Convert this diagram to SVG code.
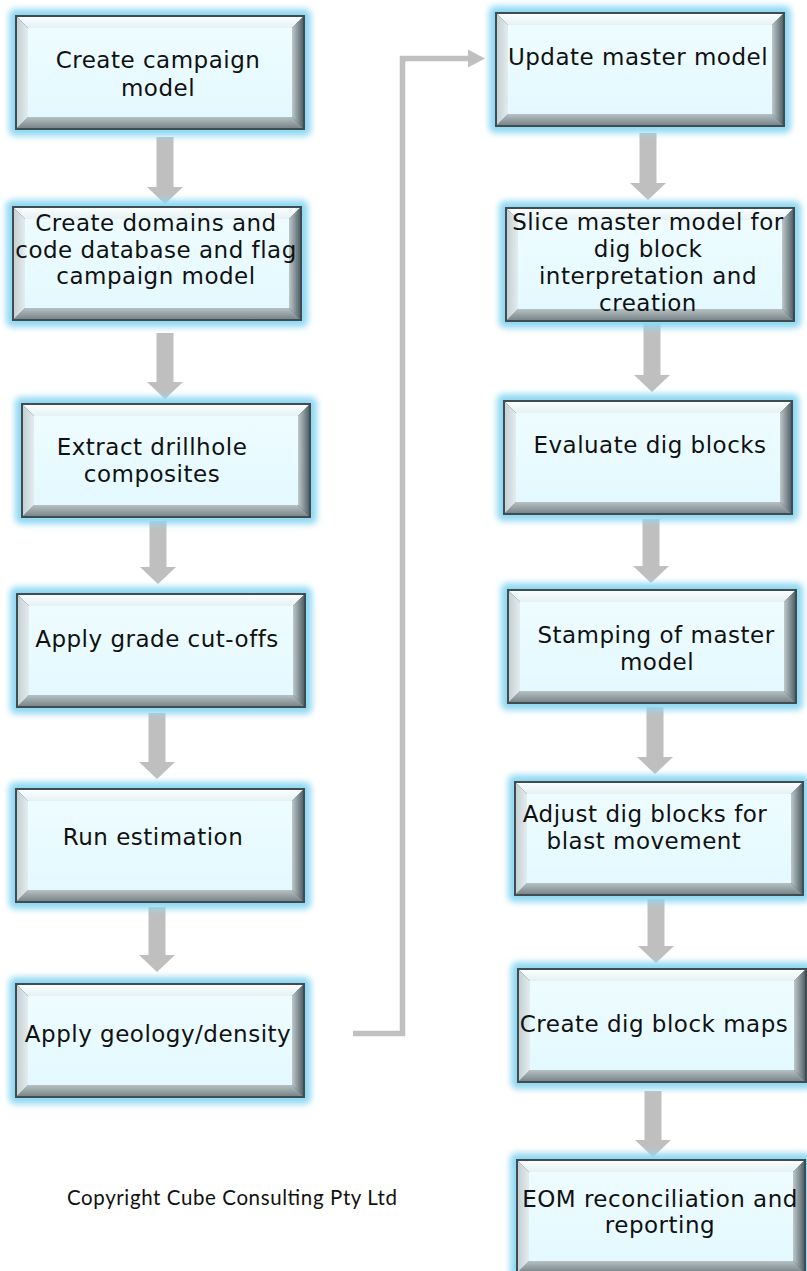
<svg xmlns="http://www.w3.org/2000/svg" xmlns:xlink="http://www.w3.org/1999/xlink" width="807" height="1271" viewBox="0 0 807 1271">
<style>
.lbl{font-family:"DejaVu Sans","Liberation Sans",sans-serif;font-size:23px;letter-spacing:0.5px;fill:#111;text-anchor:middle}
.copy{font-family:Lato,"Liberation Sans",sans-serif;font-size:20.5px;fill:#111}
.blk{fill:#bfbfbf}
.conn{fill:none;stroke:#c0c0c0;stroke-width:5.5}
</style>
<defs>
<filter id="blur" x="-10%" y="-10%" width="120%" height="120%"><feGaussianBlur stdDeviation="3"/></filter>
<linearGradient id="gTop" x1="0" y1="0" x2="0" y2="1"><stop offset="0" stop-color="#fbfdfd"/><stop offset="1" stop-color="#e4f2f4"/></linearGradient>
<linearGradient id="gBot" x1="0" y1="0" x2="0" y2="1"><stop offset="0" stop-color="#b7c1c4"/><stop offset="1" stop-color="#7a868a"/></linearGradient>
<linearGradient id="gLeft" x1="0" y1="0" x2="1" y2="0"><stop offset="0" stop-color="#c6d0d3"/><stop offset="1" stop-color="#e3ecee"/></linearGradient>
<linearGradient id="gRight" x1="0" y1="0" x2="1" y2="0"><stop offset="0" stop-color="#bfc9cc"/><stop offset="1" stop-color="#55646a"/></linearGradient>
<linearGradient id="gFace" x1="0" y1="0" x2="0" y2="1"><stop offset="0" stop-color="#eefcff"/><stop offset="1" stop-color="#e3f9ff"/></linearGradient>
<g id="box">
<rect x="-6" y="-6" width="302" height="127" rx="6" fill="#8fd8f2" filter="url(#blur)"/>
<rect x="0" y="0" width="290" height="115" fill="#3f4d52"/>
<polygon points="2,2 288,2 277,13 13,13" fill="url(#gTop)"/>
<polygon points="2,113 288,113 277,102 13,102" fill="url(#gBot)"/>
<polygon points="2,2 13,13 13,102 2,113" fill="url(#gLeft)"/>
<polygon points="288,2 277,13 277,102 288,113" fill="url(#gRight)"/>
<rect x="13" y="13" width="264" height="89" fill="url(#gFace)"/>
</g>
</defs>
<rect width="807" height="1271" fill="#ffffff"/>

<g id="connectors">
<polygon class="blk" points="156.5,137 173.5,137 173.5,187 183,187 165,204 147,187 156.5,187"/>
<polygon class="blk" points="156.5,333 173.5,333 173.5,382 183,382 165,399 147,382 156.5,382"/>
<polygon class="blk" points="149.5,521 166.5,521 166.5,567 176,567 158,584 140,567 149.5,567"/>
<polygon class="blk" points="148.5,713 165.5,713 165.5,762 175,762 157,779 139,762 148.5,762"/>
<polygon class="blk" points="148.5,907 165.5,907 165.5,955 175,955 157,972 139,955 148.5,955"/>
<polygon class="blk" points="639.5,133 656.5,133 656.5,183 666,183 648,200 630,183 639.5,183"/>
<polygon class="blk" points="643.5,323 660.5,323 660.5,375 670,375 652,392 634,375 643.5,375"/>
<polygon class="blk" points="642.5,519 659.5,519 659.5,566 669,566 651,583 633,566 642.5,566"/>
<polygon class="blk" points="646.5,707 663.5,707 663.5,757 673,757 655,774 637,757 646.5,757"/>
<polygon class="blk" points="647.5,899 664.5,899 664.5,946 674,946 656,963 638,946 647.5,946"/>
<polygon class="blk" points="644.5,1091 661.5,1091 661.5,1140 671,1140 653,1157 635,1140 644.5,1140"/>
<polyline class="conn" points="353,1033.5 402.5,1033.5 402.5,58.5 470,58.5"/>
<polygon fill="#c0c0c0" points="468,49.5 485,58.5 468,67.5"/>
</g>

<g id="n1"><use xlink:href="#box" x="15" y="15"/>
<text class="lbl" x="158" y="68">Create campaign</text><text class="lbl" x="158" y="96">model</text></g>
<g id="n2"><use xlink:href="#box" x="12" y="206"/>
<text class="lbl" x="156" y="231">Create domains and</text><text class="lbl" x="156" y="258">code database and flag</text><text class="lbl" x="156" y="284">campaign model</text></g>
<g id="n3"><use xlink:href="#box" x="21" y="403"/>
<text class="lbl" x="152" y="455">Extract drillhole</text><text class="lbl" x="152" y="482">composites</text></g>
<g id="n4"><use xlink:href="#box" x="16" y="593"/>
<text class="lbl" x="157" y="647">Apply grade cut-offs</text></g>
<g id="n5"><use xlink:href="#box" x="15" y="788"/>
<text class="lbl" x="153" y="845">Run estimation</text></g>
<g id="n6"><use xlink:href="#box" x="15" y="983"/>
<text class="lbl" x="158" y="1042">Apply geology/density</text></g>
<g id="n7"><use xlink:href="#box" x="495" y="12"/>
<text class="lbl" x="638" y="65">Update master model</text></g>
<g id="n8"><use xlink:href="#box" x="505" y="207"/>
<text class="lbl" x="648" y="230">Slice master model for</text><text class="lbl" x="648" y="257">dig block</text><text class="lbl" x="648" y="284">interpretation and</text><text class="lbl" x="648" y="311">creation</text></g>
<g id="n9"><use xlink:href="#box" x="503" y="400"/>
<text class="lbl" x="650" y="453">Evaluate dig blocks</text></g>
<g id="n10"><use xlink:href="#box" x="507" y="589"/>
<text class="lbl" x="656" y="643">Stamping of master</text><text class="lbl" x="657" y="670">model</text></g>
<g id="n11"><use xlink:href="#box" x="514" y="781"/>
<text class="lbl" x="645" y="822">Adjust dig blocks for</text><text class="lbl" x="644" y="849">blast movement</text></g>
<g id="n12"><use xlink:href="#box" x="517" y="968"/>
<text class="lbl" x="654" y="1032">Create dig block maps</text></g>
<g id="n13"><use xlink:href="#box" x="516" y="1159"/>
<text class="lbl" x="660" y="1207">EOM reconciliation and</text><text class="lbl" x="660" y="1233">reporting</text></g>

<text class="copy" x="67" y="1205" textLength="330">Copyright Cube Consulting Pty Ltd</text>
</svg>
